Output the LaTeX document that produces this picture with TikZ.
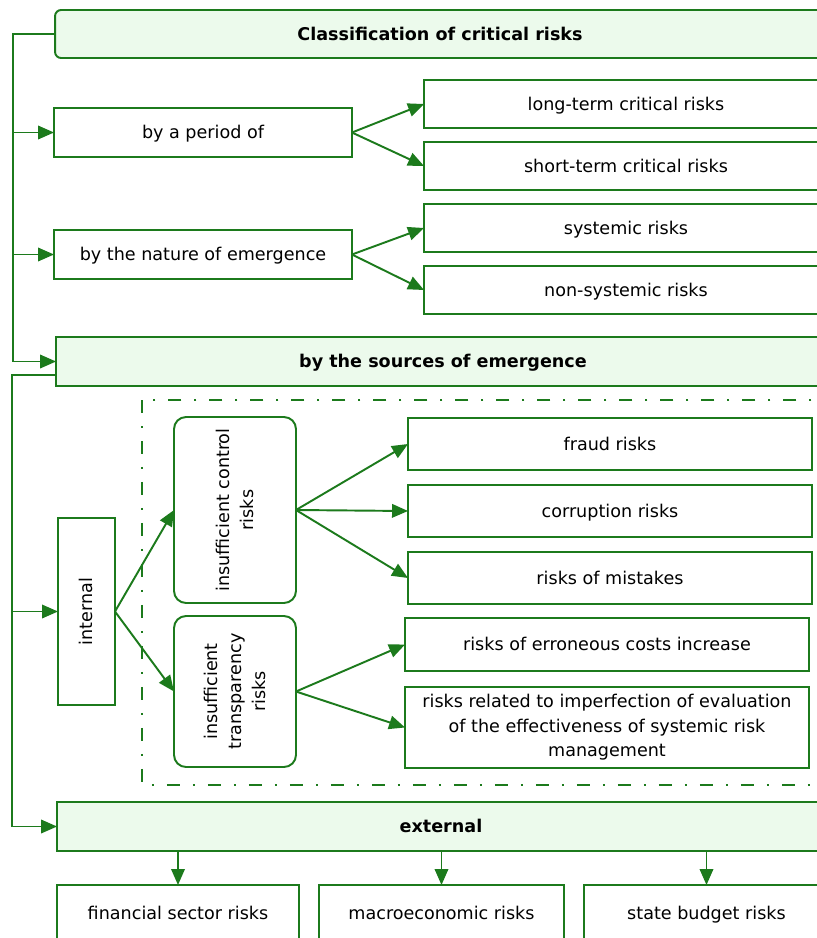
\documentclass[tikz,border=0pt]{standalone}
\usepackage{fontspec}
\setmainfont{DejaVu Sans}
\usetikzlibrary{arrows.meta}
\definecolor{lgreen}{RGB}{28,122,28}
\definecolor{lfill}{RGB}{236,250,236}

\begin{document}
\begin{tikzpicture}[x=0.02cm, y=-0.02cm,
	every node/.style={font=\fontsize{10}{13.9}\selectfont, inner sep=0pt, outer sep=0pt, align=center},
	box/.style={draw=lgreen, line width=1.1pt},
	cell/.style={box, text height=1.7ex, text depth=0.45ex},
	headbox/.style={cell, fill=lfill, font=\fontsize{10}{13.9}\selectfont\bfseries},
	tip/.style={color=lgreen, line width=1.1pt, -{Triangle[length=0.32cm, width=0.27cm]}}]
	\useasboundingbox (0,0) rectangle (817,938);

	\node (title) at (440,34) [headbox, rounded corners=0.12cm, minimum width=15.4cm, minimum height=0.96cm] {Classification of critical risks};
	\node (period) at (203,132.5) [cell, minimum width=5.96cm, minimum height=0.98cm] {by a period of};
	\node (nature) at (203,254.5) [cell, minimum width=5.96cm, minimum height=0.98cm] {by the nature of emergence};
	\node (long) at (626,104) [cell, minimum width=8.08cm, minimum height=0.96cm] {long-term critical risks};
	\node (short) at (626,166) [cell, minimum width=8.08cm, minimum height=0.96cm] {short-term critical risks};
	\node (sys) at (626,228) [cell, minimum width=8.08cm, minimum height=0.96cm] {systemic risks};
	\node (nonsys) at (626,290) [cell, minimum width=8.08cm, minimum height=0.96cm] {non-systemic risks};
	\node (sources) at (443,361.5) [headbox, minimum width=15.48cm, minimum height=0.98cm] {by the sources of emergence};

	% internal sources
	\draw [lgreen, line width=1.1pt, dash pattern=on 0.26cm off 0.26cm on 0.04cm off 0.26cm] (142,400) rectangle (822,785);
	\node (internal) at (86.5,611.5) [cell, rotate=90, minimum width=3.74cm, minimum height=1.14cm] {internal};
	\node (control) at (235,510) [box, rotate=90, rounded corners=0.24cm, minimum width=3.72cm, minimum height=2.44cm] {insufficient control\\risks};
	\node (transp) at (235,691.5) [box, rotate=90, rounded corners=0.24cm, minimum width=3.02cm, minimum height=2.44cm] {insufficient\\transparency\\risks};
	\node (fraud) at (610,444) [cell, minimum width=8.08cm, minimum height=1.04cm] {fraud risks};
	\node (corrupt) at (610,511) [cell, minimum width=8.08cm, minimum height=1.04cm] {corruption risks};
	\node (mistake) at (610,578) [cell, minimum width=8.08cm, minimum height=1.04cm] {risks of mistakes};
	\node (costs) at (607,644.5) [cell, minimum width=8.08cm, minimum height=1.06cm] {risks of erroneous costs increase};
	\node (eval) at (607,727.5) [box, minimum width=8.08cm, minimum height=1.62cm] {risks related to imperfection of evaluation\\of the effectiveness of systemic risk\\management};

	% external sources
	\node (external) at (441,826.5) [headbox, minimum width=15.36cm, minimum height=0.98cm] {external};
	\node (fin) at (178,913) [cell, minimum width=4.84cm, minimum height=1.12cm] {financial sector risks};
	\node (macro) at (441.5,913) [cell, minimum width=4.9cm, minimum height=1.12cm] {macroeconomic risks};
	\node (budget) at (706.5,913) [cell, minimum width=4.9cm, minimum height=1.12cm] {state budget risks};

	\coordinate (top) at (13,34);
	\coordinate (out) at (56,375);
	\coordinate (low) at (12,375);

	\draw [tip] (title.west) -- (top) |- (sources.west);
	\draw [tip] (out) -- (low) |- (external.west);

	\path 	[tip]	(top |- period.west)	edge	(period.west)
			(top |- nature.west)	edge	(nature.west)
			(period.east)	edge	(long.west)
					edge	(short.west)
			(nature.east)	edge	(sys.west)
					edge	(nonsys.west)
			(low |- internal.north)	edge	(internal.north)
			(internal.south)	edge	(control.north)
					edge	(transp.north)
			(control.south)	edge	(fraud.west)
					edge	(corrupt.west)
					edge	(mistake.west)
			(transp.south)	edge	(costs.west)
					edge	(eval.west)
			(fin.north |- external.south)	edge	(fin.north)
			(macro.north |- external.south)	edge	(macro.north)
			(budget.north |- external.south)	edge	(budget.north);
\end{tikzpicture}
\end{document}
